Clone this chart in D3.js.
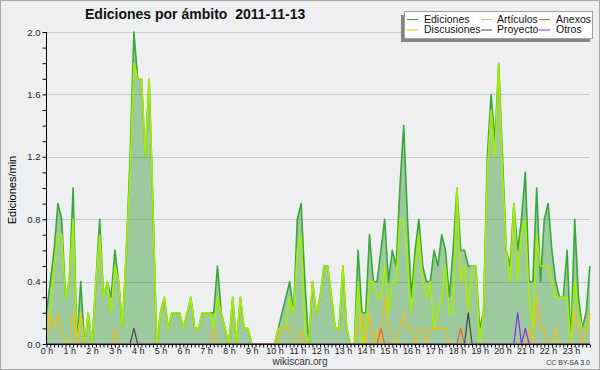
<!DOCTYPE html>
<html>
<head>
<meta charset="utf-8">
<script src="https://cdn.jsdelivr.net/npm/d3@7"></script>
<style>
  body { margin: 0; background: #fff; }
  svg { display: block; }
</style>
</head>
<body>
<div id="chart"></div>
<script>
let width = 600;
let height = 370;

// one value every 10 minutes, edits per minute
let ediciones = [
  0.2,0.4,0.6,0.9,0.8,0.3,0.4,1.0,0.0,0.4,
  0.0,0.2,0.0,0.4,0.8,0.3,0.4,0.3,0.6,0.4,
  0.1,0.6,1.2,2.0,1.7,1.7,1.2,1.7,0.9,0.0,
  0.2,0.3,0.1,0.2,0.2,0.2,0.1,0.2,0.3,0.1,
  0.1,0.2,0.2,0.2,0.2,0.5,0.2,0.1,0.0,0.3,
  0.0,0.3,0.1,0.1,0.0,0.0,0.0,0.0,0.0,0.0,
  0.0,0.1,0.2,0.3,0.4,0.2,0.8,0.9,0.4,0.0,
  0.4,0.2,0.3,0.5,0.5,0.3,0.1,0.1,0.5,0.1,
  0.0,0.0,0.6,0.2,0.2,0.7,0.4,0.4,0.6,0.8,
  0.4,0.6,0.5,1.0,1.4,0.8,0.3,0.6,0.8,0.5,
  0.4,0.4,0.6,0.5,0.7,0.6,0.3,0.6,1.0,0.6,
  0.6,0.5,0.5,0.5,0.1,0.2,1.2,1.6,1.3,1.8,
  1.2,0.6,0.5,0.9,0.6,0.8,1.1,0.4,0.4,1.0,
  0.4,0.8,0.9,0.6,0.4,0.3,0.3,0.6,0.0,0.8,
  0.3,0.1,0.2,0.5
];
let articulos = [
  0.1,0.2,0.5,0.7,0.7,0.3,0.4,0.8,0.0,0.2,
  0.0,0.2,0.0,0.4,0.7,0.3,0.4,0.2,0.5,0.4,
  0.1,0.6,1.1,1.8,1.7,1.7,1.2,1.7,0.9,0.0,
  0.2,0.3,0.1,0.2,0.2,0.2,0.1,0.2,0.3,0.1,
  0.1,0.2,0.2,0.2,0.1,0.3,0.2,0.1,0.0,0.3,
  0.0,0.3,0.1,0.1,0.0,0.0,0.0,0.0,0.0,0.0,
  0.0,0.1,0.1,0.1,0.3,0.2,0.6,0.7,0.1,0.0,
  0.4,0.2,0.3,0.5,0.5,0.3,0.1,0.1,0.5,0.1,
  0.0,0.0,0.4,0.0,0.1,0.4,0.4,0.3,0.3,0.5,
  0.2,0.4,0.4,0.8,0.8,0.5,0.2,0.5,0.7,0.4,
  0.3,0.4,0.1,0.2,0.3,0.5,0.2,0.2,1.0,0.4,
  0.5,0.2,0.5,0.5,0.0,0.2,1.1,1.5,1.2,1.8,
  1.1,0.6,0.4,0.9,0.4,0.7,0.8,0.3,0.1,0.7,
  0.5,0.5,0.5,0.4,0.3,0.3,0.3,0.3,0.0,0.4,
  0.2,0.1,0.1,0.2
];
let discusiones = [
  0.0,0.2,0.1,0.2,0.1,0.0,0.0,0.2,0.0,0.2,
  0.0,0.0,0.0,0.0,0.0,0.0,0.0,0.0,0.1,0.0,
  0.0,0.0,0.0,0.0,0.0,0.0,0.0,0.0,0.0,0.0,
  0.0,0.0,0.0,0.0,0.0,0.0,0.0,0.0,0.0,0.0,
  0.0,0.0,0.0,0.0,0.1,0.0,0.0,0.0,0.0,0.0,
  0.0,0.0,0.0,0.0,0.0,0.0,0.0,0.0,0.0,0.0,
  0.0,0.0,0.1,0.1,0.1,0.0,0.0,0.1,0.0,0.0,
  0.0,0.0,0.0,0.0,0.0,0.0,0.0,0.0,0.0,0.0,
  0.0,0.0,0.1,0.2,0.0,0.2,0.0,0.1,0.0,0.3,
  0.1,0.0,0.0,0.1,0.2,0.1,0.1,0.0,0.1,0.1,
  0.0,0.1,0.1,0.1,0.1,0.1,0.0,0.0,0.0,0.0,
  0.0,0.0,0.0,0.0,0.0,0.0,0.0,0.0,0.0,0.0,
  0.0,0.0,0.0,0.0,0.0,0.0,0.0,0.1,0.0,0.3,
  0.1,0.1,0.0,0.0,0.1,0.0,0.0,0.0,0.0,0.2,
  0.1,0.0,0.1,0.2
];
let anexos = [
  0,0,0,0,0,0,0,0,0,0, 0,0,0,0,0,0,0,0,0,0,
  0,0,0,0,0,0,0,0,0,0, 0,0,0,0,0,0,0,0,0,0,
  0,0,0,0,0,0,0,0,0,0, 0,0,0,0,0,0,0,0,0,0,
  0,0,0,0,0,0,0,0,0,0, 0,0,0,0,0,0,0,0,0,0,
  0,0,0,0,0,0,0,0,0.1,0, 0,0,0,0,0,0,0,0,0,0,
  0,0,0,0,0,0,0,0,0,0.1, 0,0,0,0,0,0,0,0,0,0,
  0,0,0,0,0,0,0,0,0,0, 0,0,0,0,0,0,0,0,0,0,
  0,0,0,0
];
let proyecto = [
  0,0,0,0,0,0,0,0,0,0, 0,0,0,0,0,0,0,0,0,0,
  0,0,0,0.1,0,0,0,0,0,0, 0,0,0,0,0,0,0,0,0,0,
  0,0,0,0,0,0,0,0,0,0, 0,0,0,0,0,0,0,0,0,0,
  0,0,0,0,0,0,0,0,0,0, 0,0,0,0,0,0,0,0,0,0,
  0,0,0,0,0,0,0,0,0,0, 0,0,0,0,0,0,0,0,0,0,
  0,0,0,0,0,0,0,0,0,0, 0,0.2,0,0,0,0,0,0,0,0,
  0,0,0,0,0,0,0,0,0,0, 0,0,0,0,0,0,0,0,0,0,
  0,0,0,0
];
let otros = [
  0,0,0,0,0,0,0,0,0,0, 0,0,0,0,0,0,0,0,0,0,
  0,0,0,0,0,0,0,0,0,0, 0,0,0,0,0,0,0,0,0,0,
  0,0,0,0,0,0,0,0,0,0, 0,0,0,0,0,0,0,0,0,0,
  0,0,0,0,0,0,0,0,0,0, 0,0,0,0,0,0,0,0,0,0,
  0,0,0,0,0,0,0,0,0,0, 0,0,0,0,0,0,0,0,0,0,
  0,0,0,0,0,0,0,0,0,0, 0,0,0,0,0,0,0,0,0,0,
  0,0,0,0,0.2,0,0.1,0,0,0, 0,0,0,0,0,0,0,0,0,0,
  0,0,0,0
];

let hourLabels = ["0 h","1 h","2 h","3 h","4 h","5 h","6 h","7 h","8 h","9 h","10 h","11 h",
  "12 h","13 h","14 h","15 h","16 h","17 h","18 h","19 h","20 h","21 h","22 h","23 h"];
let yTicks = [0, 0.4, 0.8, 1.2, 1.6, 2.0];
let yMinor = [0,0.1,0.2,0.3,0.4,0.5,0.6,0.7,0.8,0.9,1.0,1.1,1.2,1.3,1.4,1.5,1.6,1.7,1.8,1.9,2.0];

let series = [
  {name: "Ediciones", values: ediciones, color: "#38a838", w: 1.6},
  {name: "Artículos", values: articulos, color: "#a8ec00", w: 1.6},
  {name: "Discusiones", values: discusiones, color: "#f2bd1a", w: 1.2},
  {name: "Anexos", values: anexos, color: "#f0602a", w: 1.2},
  {name: "Proyecto", values: proyecto, color: "#444444", w: 1.2},
  {name: "Otros", values: otros, color: "#8030e8", w: 1.2}
];
// legend layout: three columns, two rows
let legendOrder = ["Ediciones", "Artículos", "Anexos", "Discusiones", "Proyecto", "Otros"];

let svg = d3.select("#chart").append("svg")
  .attr("width", width)
  .attr("height", height);

svg.append("rect")
  .attr("x", 0.5).attr("y", 0.5)
  .attr("width", width - 1).attr("height", height - 1)
  .attr("fill", "#eeeff1")
  .attr("stroke", "#a8a8a8");

let x = d3.scaleLinear().domain([0, 144]).range([46.5, 46.5 + 3.8 * 144]);
let y = d3.scaleLinear().domain([0, 2]).range([344, 32]);

// grid
svg.append("g")
  .selectAll("line")
  .data(yTicks.slice(1))
  .enter().append("line")
    .attr("x1", x(0)).attr("x2", x(143))
    .attr("y1", d => Math.round(y(d)) + 0.5)
    .attr("y2", d => Math.round(y(d)) + 0.5)
    .attr("stroke", "#c9c9c9");

// area under total
let area = d3.area()
  .x((d, i) => x(i))
  .y0(y(0))
  .y1(d => y(d));
svg.append("path")
  .datum(ediciones)
  .attr("d", area)
  .attr("fill", "#008000")
  .attr("fill-opacity", 0.34);

let line = d3.line()
  .x((d, i) => x(i))
  .y(d => y(d));

svg.append("g")
  .selectAll("path")
  .data(series)
  .enter().append("path")
    .attr("d", d => line(d.values))
    .attr("fill", "none")
    .attr("stroke", d => d.color)
    .attr("stroke-width", d => d.w)
    .attr("stroke-linejoin", "round");

// axes
let xAxis = d3.axisBottom(x)
  .tickValues(d3.range(0, 144))
  .tickSize(3)
  .tickPadding(0)
  .tickFormat(d => d % 6 === 0 ? hourLabels[d / 6] : "");
let gx = svg.append("g")
  .attr("transform", "translate(0,344.5)")
  .call(xAxis);
gx.select(".domain").attr("d", "M" + x(0) + ",0H" + x(143) ).attr("stroke", "#000");
gx.selectAll("text")
  .attr("font-family", "Liberation Sans")
  .attr("font-size", 9)
  .attr("fill", "#222");

let yAxis = d3.axisLeft(y)
  .tickValues(yMinor)
  .tickSize(4)
  .tickPadding(2)
  .tickFormat(d => yTicks.some(t => Math.abs(t - d) < 1e-6) ? d.toFixed(1) : "");
let gy = svg.append("g")
  .attr("transform", "translate(46.5,0)")
  .call(yAxis);
gy.select(".domain").attr("d", "M0," + y(2) + "V" + y(0)).attr("stroke", "#000");
gy.selectAll("text")
  .attr("font-family", "Liberation Sans")
  .attr("font-size", 9.5)
  .attr("fill", "#222");

svg.append("text")
  .attr("transform", "translate(16,190) rotate(-90)")
  .attr("text-anchor", "middle")
  .attr("font-family", "Liberation Sans")
  .attr("font-size", 11)
  .attr("fill", "#000")
  .text("Ediciones/min");

// title
svg.append("text")
  .attr("x", 85).attr("y", 19)
  .attr("font-family", "Liberation Sans")
  .attr("font-weight", "bold")
  .attr("font-size", 14)
  .attr("fill", "#111")
  .attr("xml:space", "preserve")
  .style("white-space", "pre")
  .text("Ediciones por ámbito  2011-11-13");

// footer
svg.append("text")
  .attr("x", 300).attr("y", 364.5)
  .attr("text-anchor", "middle")
  .attr("font-family", "Liberation Sans")
  .attr("font-size", 10)
  .attr("fill", "#333")
  .text("wikiscan.org");
svg.append("text")
  .attr("x", 590).attr("y", 365)
  .attr("text-anchor", "end")
  .attr("font-family", "Liberation Sans")
  .attr("font-size", 7)
  .attr("fill", "#333")
  .text("CC BY-SA  3.0");

// legend
let legend = svg.append("g");
legend.append("rect")
  .attr("x", 401).attr("y", 15).attr("width", 189).attr("height", 27)
  .attr("fill", "#858585");
legend.append("rect")
  .attr("x", 404.5).attr("y", 11.5).attr("width", 188).attr("height", 27)
  .attr("fill", "#fff")
  .attr("stroke", "#a0a0a0");

let colX = [407, 481, 539];
let rowY = [19, 29.5];
let items = legend.selectAll("g.item")
  .data(legendOrder.map(n => series.find(s => s.name === n)))
  .enter().append("g")
    .attr("class", "item")
    .attr("transform", (d, i) => "translate(" + colX[i % 3] + "," + rowY[Math.floor(i / 3)] + ")");
items.append("line")
  .attr("x1", 0).attr("x2", 11)
  .attr("y1", 0.5).attr("y2", 0.5)
  .attr("stroke", d => d.color)
  .attr("stroke-width", 1);
items.append("text")
  .attr("x", (d, i) => i % 3 === 1 ? 16 : 17)
  .attr("y", 3.8)
  .attr("font-family", "Liberation Sans")
  .attr("font-size", 10.5)
  .attr("fill", "#111")
  .text(d => d.name);
</script>
</body>
</html>
